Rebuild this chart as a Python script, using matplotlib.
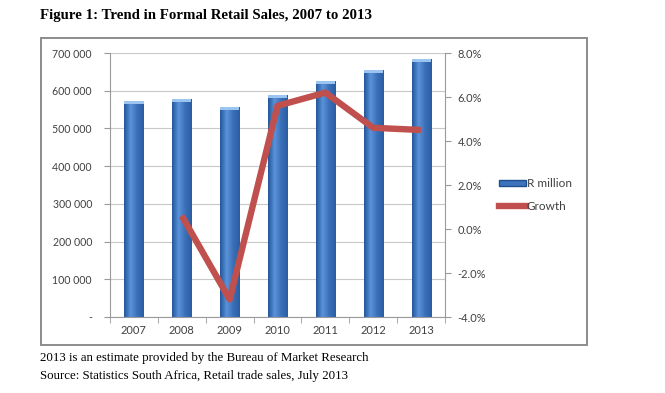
import numpy as np
import matplotlib.pyplot as plt
from matplotlib.patches import Rectangle
from matplotlib.lines import Line2D
from matplotlib.ticker import FuncFormatter

years = ["2007", "2008", "2009", "2010", "2011", "2012", "2013"]
sales = [573000, 577000, 557000, 588000, 626000, 655000, 683000]
growth = [np.nan, 0.6, -3.2, 5.6, 6.2, 4.6, 4.5]

title = "Figure 1: Trend in Formal Retail Sales, 2007 to 2013"
note1 = "2013 is an estimate provided by the Bureau of Market Research"
note2 = "Source: Statistics South Africa, Retail trade sales, July 2013"

tick_font = "Lato"
grey = "#9a9a9a"
label_col = "#404040"

fig = plt.figure(figsize=(6.65, 3.93), dpi=100)

# outer chart frame
fig.patches.append(Rectangle((41 / 665, 1 - 345 / 393), 546 / 665, 307 / 393,
                             transform=fig.transFigure, fill=False,
                             edgecolor="#8c8c8c", linewidth=1.4))

ax = fig.add_axes([110 / 665, 76 / 393, 335 / 665, 264 / 393])
x = np.arange(len(years))
bars = ax.bar(x, sales, width=0.4, color="#3d74bd", zorder=2)

# cylinder-like shading on each bar
grad = np.linspace(0, 1, 64)
cmap = plt.matplotlib.colors.LinearSegmentedColormap.from_list(
    "bar", ["#24579a", "#5a92da", "#3a70b8", "#2a5ea3"])
for b in bars:
    x0, y0 = b.get_x(), b.get_y()
    w, h = b.get_width(), b.get_height()
    im = ax.imshow(grad[None, :], extent=(x0, x0 + w, y0, y0 + h),
                   aspect="auto", cmap=cmap, zorder=2.1)
    im.set_clip_path(b)
    # light top cap
    cap = Rectangle((x0, y0 + h - 7000), w, 7000, facecolor="#9cc4f0",
                    edgecolor="none", zorder=2.2)
    ax.add_patch(cap)

ax.set_xlim(-0.5, len(years) - 0.5)
ax.set_ylim(0, 700000)
ax.set_yticks(np.arange(0, 700001, 100000))
ax.yaxis.set_major_formatter(FuncFormatter(
    lambda v, p: "-" if v == 0 else f"{int(v):,}".replace(",", " ")))
ax.set_xticks(x)
ax.set_xticklabels(years)
ax.set_xticks(np.arange(-0.5, len(years)), minor=True)
ax.tick_params(axis="x", which="major", length=0, pad=6,
               labelsize=8, labelcolor=label_col)
ax.tick_params(axis="x", which="minor", length=4, color=grey)
ax.tick_params(axis="y", length=4, color=grey, labelsize=7.6,
               labelcolor=label_col, pad=9)
ax.grid(axis="y", color="#c8c8c8", linewidth=0.8, zorder=0)
ax.set_axisbelow(True)
for s in ["top", "right"]:
    ax.spines[s].set_visible(False)
for s in ["left", "bottom"]:
    ax.spines[s].set_color(grey)
    ax.spines[s].set_linewidth(0.8)

ax2 = ax.twinx()
ax2.plot(x, growth, color="#c0504d", linewidth=4.6, zorder=5,
         solid_capstyle="butt")
ax2.set_ylim(-4, 8)
ax2.set_yticks(np.arange(-4, 8.1, 2))
ax2.yaxis.set_major_formatter(FuncFormatter(lambda v, p: f"{v:.1f}%"))
ax2.tick_params(axis="y", length=4, color=grey, labelsize=8,
                labelcolor=label_col, pad=5)
for s in ["top", "left", "bottom"]:
    ax2.spines[s].set_visible(False)
ax2.spines["right"].set_color(grey)
ax2.spines["right"].set_linewidth(0.8)

for lab in ax.get_xticklabels() + ax.get_yticklabels() + ax2.get_yticklabels():
    lab.set_fontfamily(tick_font)

handles = [Rectangle((0, 0), 1, 1, facecolor="#3d74bd", edgecolor="#1f4f8f"),
           Line2D([0], [0], color="#c0504d", linewidth=4.6)]
fig.legend(handles, ["R million", "Growth"], loc="center left",
           bbox_to_anchor=(488 / 665, 1 - 195 / 393), frameon=False,
           handlelength=2.3, handleheight=0.5, handletextpad=0.1,
           labelspacing=1.0, prop={"family": tick_font, "size": 8.5},
           labelcolor=label_col)

fig.text(40 / 665, 1 - 16 / 393, title, fontfamily="Liberation Serif",
         fontweight="bold", fontsize=10.7, va="center", ha="left")
fig.text(40 / 665, 1 - 358 / 393, note1, fontfamily="Liberation Serif",
         fontsize=9.3, va="center", ha="left")
fig.text(40 / 665, 1 - 376 / 393, note2, fontfamily="Liberation Serif",
         fontsize=9.3, va="center", ha="left")

fig.savefig("out.png", dpi=100)
